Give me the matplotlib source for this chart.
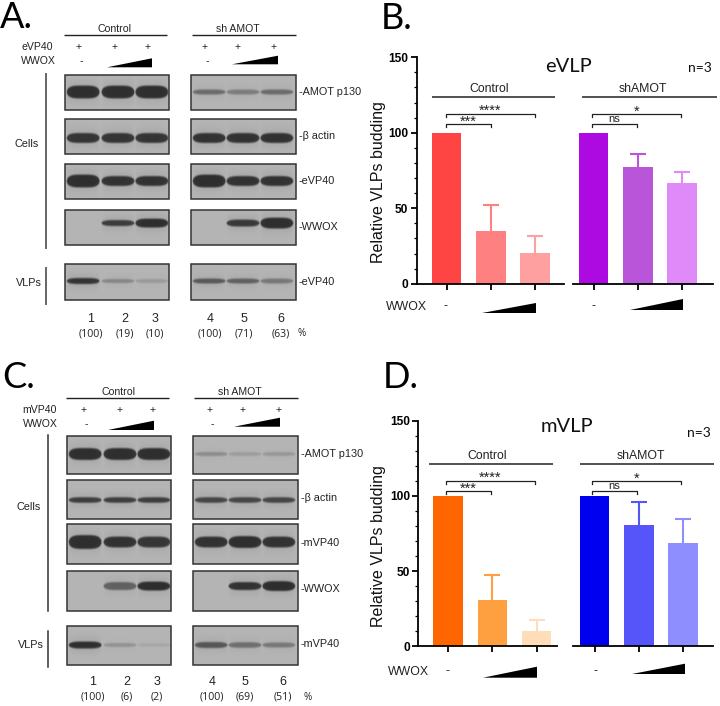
import matplotlib
matplotlib.use('Agg')
import matplotlib.pyplot as plt
import numpy as np
from matplotlib.patches import Polygon, Rectangle

plt.rcParams['font.family'] = ['Liberation Sans', 'DejaVu Sans']

W, H = 720, 706

# bar chart data
evlp_ctrl = [100, 35, 20.5]
evlp_ctrl_err = [0, 17, 11]
evlp_sh = [100, 77.5, 66.5]
evlp_sh_err = [0, 8.5, 7.5]
mvlp_ctrl = [100, 30.5, 10]
mvlp_ctrl_err = [0, 17, 7.5]
mvlp_sh = [100, 80.5, 68.5]
mvlp_sh_err = [0, 15.5, 16]

# blot band strength, one row per antibody, lanes 1-3 or 4-6
blot_a_ctrl = [[1.0, 1.0, 1.0], [.95, .95, .95], [1.0, .97, .97], [0, .9, 1.0], [.95, .35, .2]]
blot_a_sh = [[.55, .42, .55], [.97, .97, .97], [1.0, .97, .97], [0, .92, 1.0], [.68, .62, .45]]
blot_c_ctrl = [[1.0, 1.0, 1.0], [.88, .88, .88], [1.0, .97, .95], [0, .62, 1.0], [1.0, .25, .12]]
blot_c_sh = [[.3, .18, .22], [.82, .82, .82], [.97, 1.0, .97], [0, .97, 1.0], [.7, .52, .45]]

# band half thickness in px, same layout
thick_a_ctrl = [[6.5, 6.5, 6.5], [5, 5, 5], [6.5, 5, 5], [0, 3, 4.5], [3, 2, 2]]
thick_a_sh = [[2.5, 2.5, 2.5], [5, 5, 5], [6.5, 5, 5], [0, 3.5, 5.5], [2.5, 2.5, 2.5]]
thick_c_ctrl = [[6, 6, 6], [2.8, 2.8, 2.8], [7, 5.5, 5.5], [0, 4, 4.5], [3.5, 2, 1.5]]
thick_c_sh = [[2, 2, 2], [2.8, 2.8, 2.8], [5.5, 6, 5.5], [0, 4, 5], [3, 2.8, 2.5]]

pct_a = ['(100)', '(19)', '(10)', '(100)', '(71)', '(63)']
pct_c = ['(100)', '(6)', '(2)', '(100)', '(69)', '(51)']
lane_nums = ['1', '2', '3', '4', '5', '6']

fig = plt.figure(figsize=(W / 100, H / 100), dpi=100)


def px_axes(x0, x1, y0, y1):
    return fig.add_axes([x0 / W, 1 - y0 / H, (x1 - x0) / W, (y0 - y1) / H])


def bar_group(ax, vals, errs, colors, first):
    for i in range(3):
        ax.bar(i, vals[i], width=0.666, color=colors[i], zorder=2)
        if errs[i] > 0:
            eb = ax.errorbar(i, vals[i], yerr=[[0], [errs[i]]], color=colors[i], capsize=5.5,
                             capthick=1.5, elinewidth=1.5, zorder=1)
            # graphpad style, only the upper cap
            eb[1][0].set_visible(False)
    ax.set_ylim(0, 150)
    ax.set_xticks(range(3))
    ax.set_xticklabels([])
    ax.tick_params(axis='x', width=1.3, length=4)
    ax.spines['top'].set_visible(False)
    ax.spines['right'].set_visible(False)
    ax.spines['bottom'].set_linewidth(1.3)
    if first:
        ax.spines['left'].set_linewidth(1.3)
        ax.set_yticks([0, 50, 100, 150])
        ax.set_yticks(range(0, 151, 10), minor=True)
        ax.tick_params(axis='y', width=1.3, length=4, labelsize=8.6, pad=2)
        ax.tick_params(axis='y', which='minor', width=0.9, length=2)
        for t in ax.get_yticklabels():
            t.set_fontweight('bold')
    else:
        ax.spines['left'].set_visible(False)
        ax.set_yticks([])


def bar_panel(top, bot, xa, xb1, xb2, xe, c0, s0, ctrl, ctrl_err, sh, sh_err, cc, sc):
    step = 44.3
    ax1 = px_axes(xa, xb1, bot, top)
    ax1.set_xlim((xa - c0) / step, (xb1 - c0) / step)
    bar_group(ax1, ctrl, ctrl_err, cc, True)
    ax1.patch.set_alpha(0)
    ax2 = px_axes(xb2, xe, bot, top)
    ax2.set_xlim((xb2 - s0) / step, (xe - s0) / step)
    bar_group(ax2, sh, sh_err, sc, False)
    ax2.patch.set_alpha(0)


bar_panel(57.3, 283.7, 416.7, 564, 573, 713, 446.5, 593.5, evlp_ctrl, evlp_ctrl_err, evlp_sh, evlp_sh_err,
          ['#FF4444', '#FF8080', '#FFA0A0'], ['#AC0AE0', '#B955D8', '#DF8AF8'])
bar_panel(420.7, 646.3, 418.3, 557, 573, 713, 448, 594.5, mvlp_ctrl, mvlp_ctrl_err, mvlp_sh, mvlp_sh_err,
          ['#FF6600', '#FFA040', '#FFDDB8'], ['#0000F0', '#5555FA', '#8E8EFF'])

# everything else sits on one overlay in picture pixels
ov = fig.add_axes([0, 0, 1, 1])
ov.patch.set_alpha(0)
ov.axis('off')


def blot(x0, x1, y0, y1, band_y, lane_x, strength, thick, bg=0.71):
    nx, ny = int(x1 - x0) * 2, int(y1 - y0) * 2
    xx, yy = np.meshgrid(np.linspace(x0, x1, nx), np.linspace(y0, y1, ny))
    img = np.full((ny, nx), bg)
    for lx, s, t in zip(lane_x, strength, thick):
        if s <= 0:
            continue
        u = (xx - lx) / 16.5
        prof = np.clip(1 - u ** 4, 0, 1) ** 0.5
        dy = np.abs(yy - band_y)
        core = np.clip((prof * t - dy) / 2.2 + 0.5, 0, 1) * (prof > 0)
        halo = np.exp(-(dy / (t + 5)) ** 2) * prof
        img = img - s * (0.47 * core + 0.06 * halo)
    ov.imshow(img, cmap='gray', vmin=0, vmax=1, extent=[x0, x1, y1, y0], aspect='auto', interpolation='bilinear')
    ov.add_patch(Rectangle((x0, y0), x1 - x0, y1 - y0, fill=False, ec='#333333', lw=1.1))


def tri(x0, y0, x1, y1):
    ov.add_patch(Polygon([(x0, y0), (x1, y1), (x1, y0)], closed=True, color='black', lw=0))


def txt(x, y, s, size=8, **kw):
    kw.setdefault('ha', 'center')
    kw.setdefault('va', 'center')
    kw.setdefault('color', '#222222')
    ov.text(x, y, s, fontsize=size, **kw)


def hline(x0, x1, y, lw=1.0, c='#222222'):
    ov.plot([x0, x1], [y, y], color=c, lw=lw, solid_capstyle='butt')


def blot_panel(dy, dx, virus, rows, band_ys, ctrl, sh, tctrl, tsh, plus, nums, pcts, label_ys, tris, pct_x):
    xl0, xl1, xr0, xr1 = 65 + dx, 169 + dx, 191 + dx, 296 + dx
    txt(114 + dx * 2, 29 + dy, 'Control', 7.6)
    txt(238 + dx, 29 + dy, 'sh AMOT', 7.6)
    hline(xl0 - 1, xl1 - 2, 35 + dy)
    hline(xr0 + 1, xr1, 35 + dy)
    txt(37 + dx, 47 + dy, virus, 7.6)
    txt(38 + dx, 61 + dy, 'WWOX', 7.6)
    for x in plus:
        txt(x, 47 + dy, '+', 7.5)
    txt(plus[0] + 2, 61 + dy, '-', 7.5)
    txt(plus[3] + 2, 61 + dy, '-', 7.5)
    tri(*tris[0])
    tri(*tris[1])
    lanes_l = [83 + dx, 118 + dx, 152 + dx]
    lanes_r = [209 + dx, 243 + dx, 277 + dx]
    for i, r in enumerate(rows):
        blot(xl0, xl1, r[0], r[1], band_ys[i], lanes_l, ctrl[i], tctrl[i])
        blot(xr0, xr1, r[0], r[1], band_ys[i], lanes_r, sh[i], tsh[i])
    for (y, s) in label_ys:
        txt(299 + dx, y, s, 7.8, ha='left')
    for i in range(6):
        txt(nums[i], 319 + dy, lane_nums[i], 9)
        txt(nums[i], 334 + dy, pcts[i], 7.6, family=['Open Sans', 'DejaVu Sans'])
    txt(pct_x, 334 + dy, '%', 7.2, family=['Open Sans', 'DejaVu Sans'])


# panel A
blot_panel(0, 0, 'eVP40',
           [(75, 110), (119, 154), (164, 199), (210, 245), (264, 300)],
           [92, 138, 181, 223, 281], blot_a_ctrl, blot_a_sh, thick_a_ctrl, thick_a_sh,
           [79, 115, 148, 205, 238, 274], [91, 125, 155, 210, 244, 281], pct_a,
           [(92, '-AMOT p130'), (136, '-β actin'), (181, '-eVP40'), (227, '-WWOX'), (282, '-eVP40')],
           [(107, 67.3, 152, 58.3), (232, 64.3, 278, 55.7)], 302)
ov.plot([45.7, 45.7], [74, 248], color='#666666', lw=1.4)
ov.plot([45.7, 45.7], [268, 304], color='#666666', lw=1.4)
txt(27, 144, 'Cells', 7.8)
txt(29, 283, 'VLPs', 7.8)

# panel C
blot_panel(363, 2, 'mVP40',
           [(436, 474), (480, 519), (524, 564), (571, 611), (626, 665)],
           [454, 500, 542, 586, 645], blot_c_ctrl, blot_c_sh, thick_c_ctrl, thick_c_sh,
           [84, 120, 153, 210, 243, 279], [93, 127, 157, 212, 245, 283], pct_c,
           [(454, '-AMOT p130'), (498, '-β actin'), (543, '-mVP40'), (589, '-WWOX'), (644, '-mVP40')],
           [(108, 430, 154, 420.7), (234, 426.7, 280, 417.7)], 308)
ov.plot([47.7, 47.7], [435, 611], color='#333333', lw=1.1)
ov.plot([47.7, 47.7], [631, 667], color='#333333', lw=1.1)
txt(29, 507, 'Cells', 7.8)
txt(31, 645, 'VLPs', 7.8)


def bracket(x0, x1, y, label, ly):
    ov.plot([x0, x0, x1, x1], [y + 2.5, y, y, y + 2.5], color='#222222', lw=0.9)
    txt((x0 + x1) / 2, ly, label, 8 if label == 'ns' else 10.5)


def bar_text(dy, title, title_x, title_y, n_x, n_y, tris, wwox_x, wwox_y, ctrl_x, sh_x, lines):
    txt(title_x, title_y, title, 14.5, family=['Lato', 'DejaVu Sans'], color='#111111')
    txt(n_x, n_y, 'n=3', 10, family=['Lato', 'DejaVu Sans'], color='#111111')
    y_line = 97 + dy
    hline(lines[0], lines[1], y_line, 1.1)
    hline(lines[2], lines[3], y_line, 1.1)
    txt(ctrl_x, 89 + dy, 'Control', 8.8)
    txt(sh_x, 89 + dy, 'shAMOT', 8.8)
    bracket(446, 490.5, 124 + dy, '***', 122 + dy)
    bracket(446, 534.5, 114 + dy, '****', 111 + dy)
    bracket(592, 637, 124 + dy, 'ns', 119 + dy)
    bracket(592, 681, 114 + dy, '*', 112 + dy)
    txt(wwox_x, wwox_y, 'WWOX', 8.8)
    txt(446 + (wwox_x - 406), wwox_y - 1, '-', 8.8)
    txt(593 + (wwox_x - 406), wwox_y - 1, '-', 8.8)
    tri(*tris[0])
    tri(*tris[1])


bar_text(0, 'eVLP', 568, 66, 700, 68, [(482, 313, 536, 303), (630, 310, 683, 299)], 406, 307, 489, 643,
         [432, 555, 582, 717])
bar_text(367, 'mVLP', 567, 427, 699, 433, [(483, 677.7, 537, 666.7), (632, 674, 685, 663.7)], 408, 672, 487, 641,
         [429, 553, 580, 714])
txt(378, 182, 'Relative VLPs budding', 11.5, rotation=90, color='#111111')
txt(379, 546, 'Relative VLPs budding', 11.5, rotation=90, color='#111111')

# panel letters
for x, y, s in [(0, 28, 'A.'), (381, 29, 'B.'), (2, 388, 'C.'), (383, 388, 'D.')]:
    ov.text(x, y, s, fontsize=26, family=['Lato', 'DejaVu Sans'], color='black', ha='left', va='baseline')

ov.set_xlim(0, W)
ov.set_ylim(H, 0)

fig.savefig('out.png', dpi=100)
